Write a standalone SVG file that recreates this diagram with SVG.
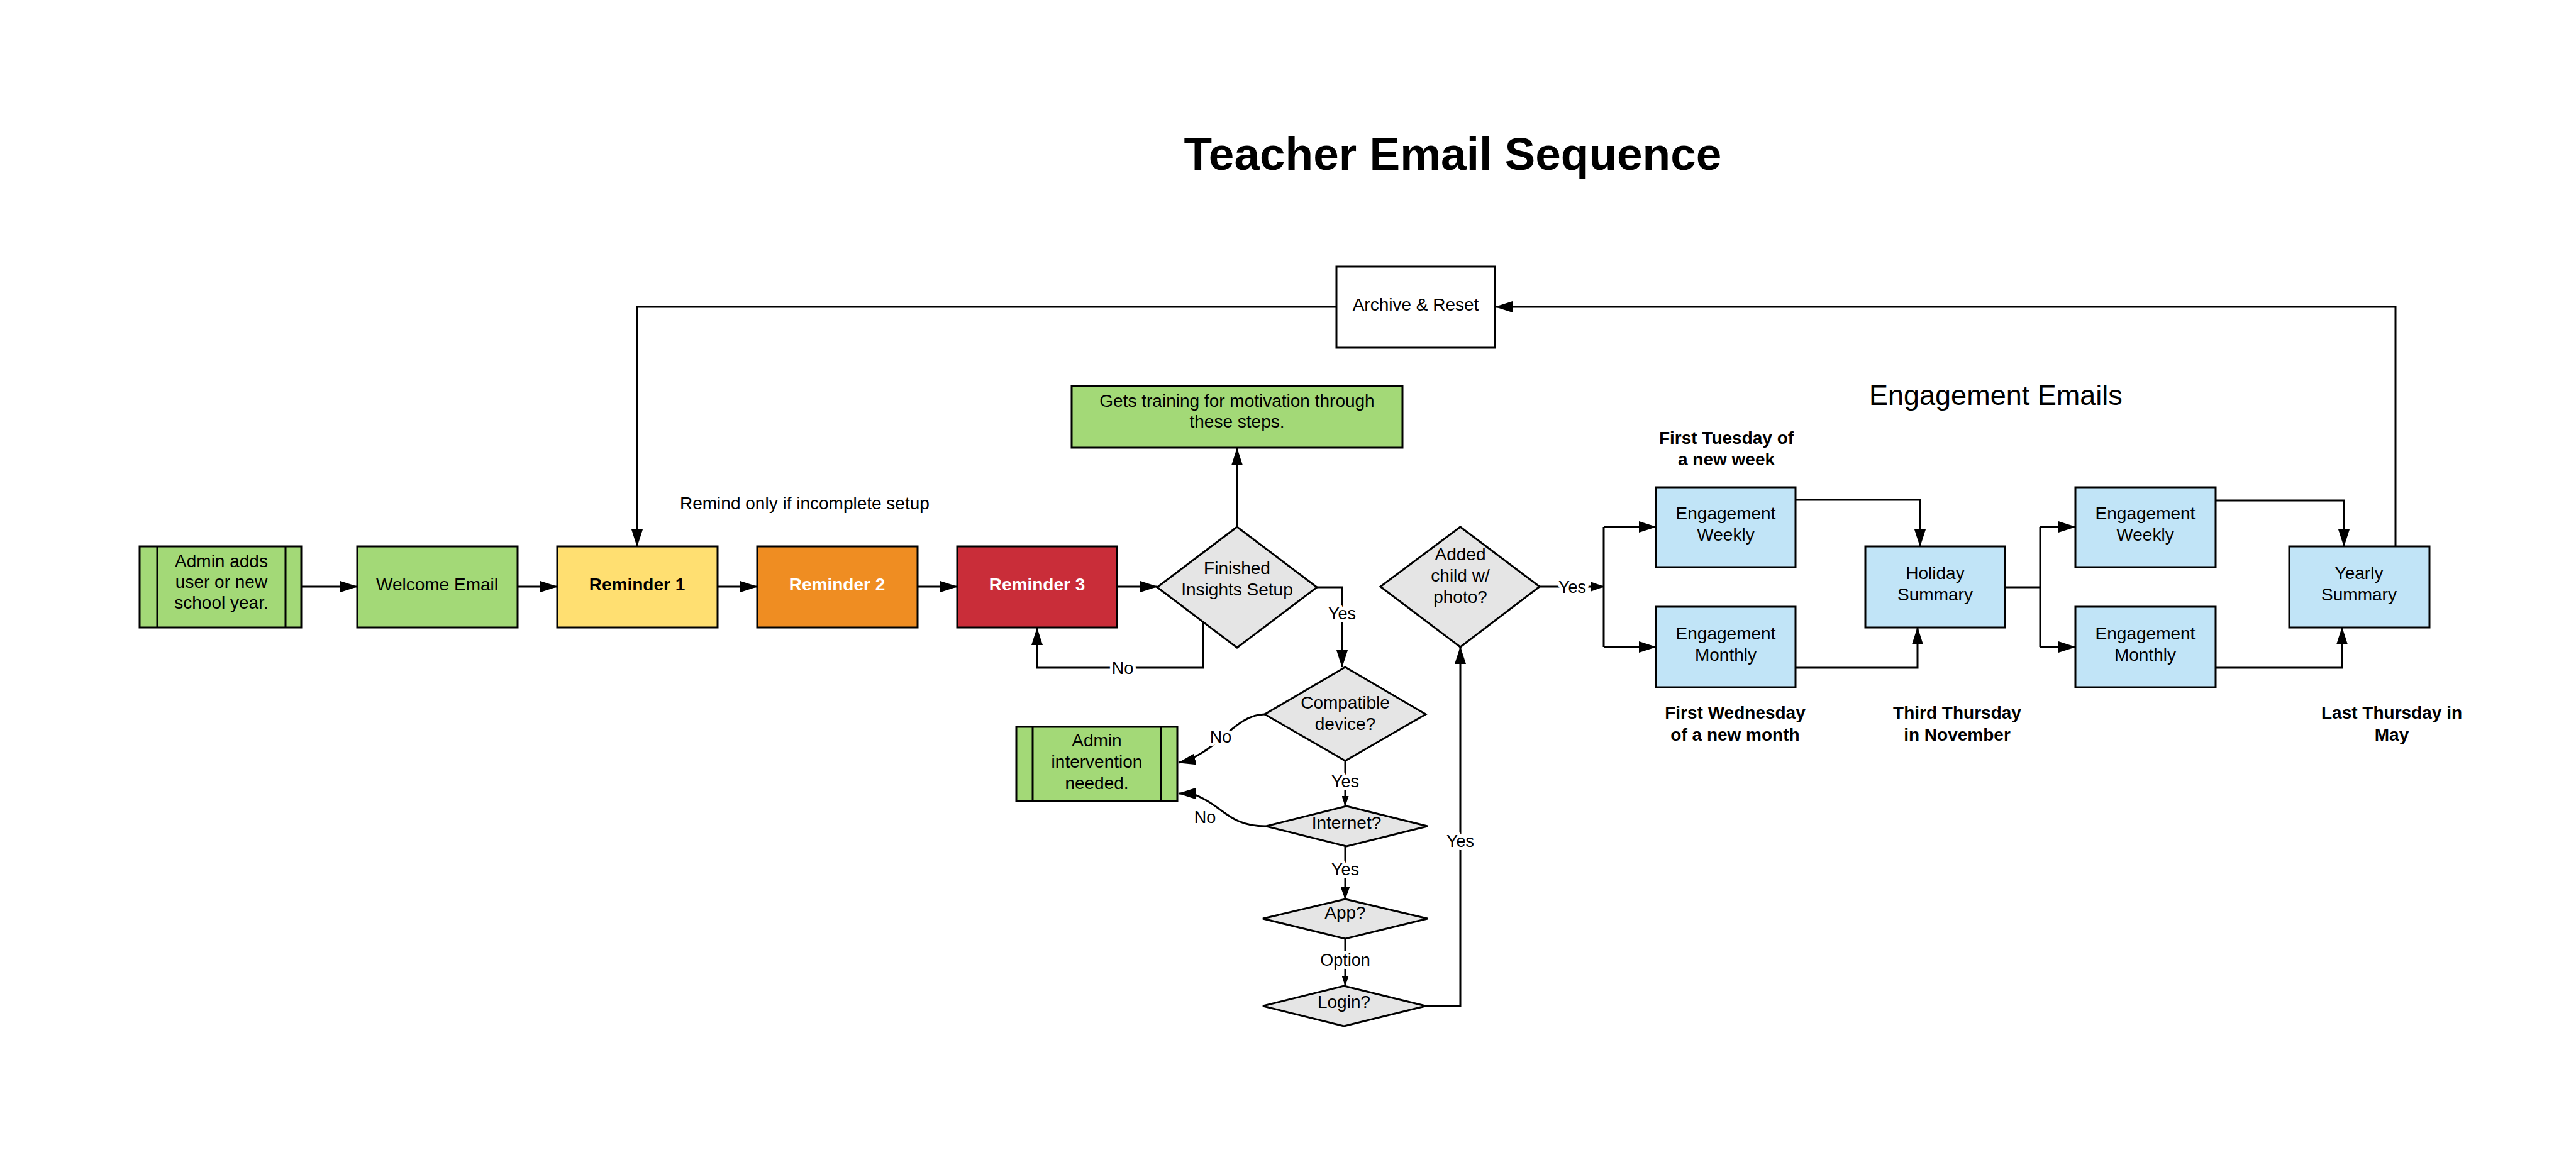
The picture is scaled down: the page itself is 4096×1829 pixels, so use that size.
<svg xmlns="http://www.w3.org/2000/svg" width="4096" height="1829" viewBox="0 0 4096 1829">
<style>
.t{font-family:"Liberation Sans",Arial,sans-serif;font-size:28px;fill:#000;text-anchor:middle}
.b{font-weight:bold}
.w{fill:#fff}
.box{stroke:#000;stroke-width:3}
.g{fill:#A3D977}.y{fill:#FFDF71}.o{fill:#EF8D22}.r{fill:#C92D39}.bl{fill:#C1E4F7}.gr{fill:#E5E5E5}.wh{fill:#fff}
.c{fill:none;stroke:#000;stroke-width:3}
.lbl{font-family:"Liberation Sans",Arial,sans-serif;font-size:27px;fill:#000;text-anchor:middle;stroke:#fff;stroke-width:10px;paint-order:stroke;stroke-linejoin:round}
</style>
<defs>
<marker id="aL" markerUnits="userSpaceOnUse" markerWidth="28" markerHeight="18" refX="27" refY="9" orient="auto"><path d="M0,0 L28,9 L0,18 Z" fill="#000"/></marker>
<marker id="aM" markerUnits="userSpaceOnUse" markerWidth="21" markerHeight="15" refX="20" refY="7.5" orient="auto"><path d="M0,0 L21,7.5 L0,15 Z" fill="#000"/></marker>
<marker id="aS" markerUnits="userSpaceOnUse" markerWidth="17" markerHeight="11" refX="16" refY="5.5" orient="auto"><path d="M0,0 L17,5.5 L0,11 Z" fill="#000"/></marker>
</defs>
<rect width="4096" height="1829" fill="#fff"/>
<text class="t b" x="2310" y="270" style="font-size:73px">Teacher Email Sequence</text>
<text class="t" x="2972" y="644" style="font-size:45px;text-anchor:start">Engagement Emails</text>
<text class="t" x="1081" y="810" style="text-anchor:start">Remind only if incomplete setup</text>
<g id="labels-dates">
<text class="t b" x="2745" y="706">First Tuesday of</text>
<text class="t b" x="2745" y="740">a new week</text>
<text class="t b" x="2759" y="1143">First Wednesday</text>
<text class="t b" x="2759" y="1178">of a new month</text>
<text class="t b" x="3112" y="1143">Third Thursday</text>
<text class="t b" x="3112" y="1178">in November</text>
<text class="t b" x="3803" y="1143">Last Thursday in</text>
<text class="t b" x="3803" y="1178">May</text>
</g>
<g id="connectors">
<path class="c" d="M479,933 H568" marker-end="url(#aL)"/>
<path class="c" d="M823,933 H886" marker-end="url(#aL)"/>
<path class="c" d="M1141,933 H1204" marker-end="url(#aL)"/>
<path class="c" d="M1459,933 H1522" marker-end="url(#aL)"/>
<path class="c" d="M1776,933 H1840" marker-end="url(#aL)"/>
<path class="c" d="M1967,838 V713" marker-end="url(#aL)"/>
<path class="c" d="M1913,989 V1062 H1649 V999" marker-end="url(#aL)"/>
<path class="c" d="M2094,934 H2134 V1061" marker-end="url(#aL)"/>
<path class="c" d="M2011,1136 C1962,1136 1935,1200 1874,1213" marker-end="url(#aL)"/>
<path class="c" d="M2139,1210 V1282" marker-end="url(#aS)"/>
<path class="c" d="M2013,1314 C1962,1314 1948,1290 1920,1274 S1890,1262 1874,1262" marker-end="url(#aL)"/>
<path class="c" d="M2139,1346 V1430" marker-end="url(#aM)"/>
<path class="c" d="M2139,1493 V1568" marker-end="url(#aS)"/>
<path class="c" d="M2267,1600 H2322 V1029" marker-end="url(#aL)"/>
<path class="c" d="M2448,933 H2550" marker-end="url(#aM)"/>
<path class="c" d="M2550,838 V1029"/>
<path class="c" d="M2550,838 H2633" marker-end="url(#aL)"/>
<path class="c" d="M2550,1029 H2633" marker-end="url(#aL)"/>
<path class="c" d="M2855,795 H3053 V869" marker-end="url(#aL)"/>
<path class="c" d="M2855,1062 H3049 V998" marker-end="url(#aL)"/>
<path class="c" d="M3188,934 H3244"/>
<path class="c" d="M3244,838 V1029"/>
<path class="c" d="M3244,838 H3300" marker-end="url(#aL)"/>
<path class="c" d="M3244,1029 H3300" marker-end="url(#aL)"/>
<path class="c" d="M3523,796 H3727 V869" marker-end="url(#aL)"/>
<path class="c" d="M3523,1062 H3724 V998" marker-end="url(#aL)"/>
<path class="c" d="M3809,869 V488 H2378" marker-end="url(#aL)"/>
<path class="c" d="M2125,488 H1013 V869" marker-end="url(#aL)"/>
<text class="lbl" x="1785" y="1072">No</text>
<text class="lbl" x="2134" y="985">Yes</text>
<text class="lbl" x="1941" y="1181">No</text>
<text class="lbl" x="2139" y="1252">Yes</text>
<text class="lbl" x="1916" y="1309">No</text>
<text class="lbl" x="2139" y="1392">Yes</text>
<text class="lbl" x="2139" y="1536">Option</text>
<text class="lbl" x="2322" y="1347">Yes</text>
<text class="lbl" x="2500" y="943">Yes</text>
</g>
<g id="admin-adds">
<rect class="box g" x="222" y="869" width="257" height="129"/>
<path class="c" d="M250,869 V998 M454,869 V998"/>
<text class="t" x="352" y="902">Admin adds</text>
<text class="t" x="352" y="935">user or new</text>
<text class="t" x="352" y="968">school year.</text>
</g>
<g id="welcome-email">
<rect class="box g" x="568" y="869" width="255" height="129"/>
<text class="t" x="695" y="939">Welcome Email</text>
</g>
<g id="reminder-1">
<rect class="box y" x="886" y="869" width="255" height="129"/>
<text class="t b" x="1013" y="939">Reminder 1</text>
</g>
<g id="reminder-2">
<rect class="box o" x="1204" y="869" width="255" height="129"/>
<text class="t b w" x="1331" y="939">Reminder 2</text>
</g>
<g id="reminder-3">
<rect class="box r" x="1522" y="869" width="254" height="129"/>
<text class="t b w" x="1649" y="939">Reminder 3</text>
</g>
<g id="finished-setup">
<polygon class="box gr" points="1967,838 2094,934 1967,1030 1840,934"/>
<text class="t" x="1967" y="913">Finished</text>
<text class="t" x="1967" y="947">Insights Setup</text>
</g>
<g id="gets-training">
<rect class="box g" x="1704" y="614" width="526" height="98"/>
<text class="t" x="1967" y="647">Gets training for motivation through</text>
<text class="t" x="1967" y="680">these steps.</text>
</g>
<g id="archive-reset">
<rect class="box wh" x="2125" y="424" width="252" height="129"/>
<text class="t" x="2251" y="494">Archive &amp; Reset</text>
</g>
<g id="compatible-device">
<polygon class="box gr" points="2139,1061 2267,1136 2139,1210 2011,1136"/>
<text class="t" x="2139" y="1127">Compatible</text>
<text class="t" x="2139" y="1161">device?</text>
</g>
<g id="admin-intervention">
<rect class="box g" x="1616" y="1156" width="256" height="118"/>
<path class="c" d="M1642,1156 V1274 M1846,1156 V1274"/>
<text class="t" x="1744" y="1187">Admin</text>
<text class="t" x="1744" y="1221">intervention</text>
<text class="t" x="1744" y="1255">needed.</text>
</g>
<g id="internet">
<polygon class="box gr" points="2141,1282 2270,1314 2141,1346 2013,1314"/>
<text class="t" x="2141" y="1318">Internet?</text>
</g>
<g id="app">
<polygon class="box gr" points="2139,1430 2270,1461 2139,1493 2008,1461"/>
<text class="t" x="2139" y="1461">App?</text>
</g>
<g id="login">
<polygon class="box gr" points="2137,1568 2267,1600 2137,1632 2008,1600"/>
<text class="t" x="2137" y="1603">Login?</text>
</g>
<g id="added-child">
<polygon class="box gr" points="2322,838 2448,933 2322,1029 2195,933"/>
<text class="t" x="2322" y="891">Added</text>
<text class="t" x="2322" y="925">child w/</text>
<text class="t" x="2322" y="959">photo?</text>
</g>
<g id="engagement-weekly-1">
<rect class="box bl" x="2633" y="775" width="222" height="127"/>
<text class="t" x="2744" y="826">Engagement</text>
<text class="t" x="2744" y="860">Weekly</text>
</g>
<g id="engagement-monthly-1">
<rect class="box bl" x="2633" y="965" width="222" height="128"/>
<text class="t" x="2744" y="1017">Engagement</text>
<text class="t" x="2744" y="1051">Monthly</text>
</g>
<g id="holiday-summary">
<rect class="box bl" x="2966" y="869" width="222" height="129"/>
<text class="t" x="3077" y="921">Holiday</text>
<text class="t" x="3077" y="955">Summary</text>
</g>
<g id="engagement-weekly-2">
<rect class="box bl" x="3300" y="775" width="223" height="127"/>
<text class="t" x="3411" y="826">Engagement</text>
<text class="t" x="3411" y="860">Weekly</text>
</g>
<g id="engagement-monthly-2">
<rect class="box bl" x="3300" y="965" width="223" height="128"/>
<text class="t" x="3411" y="1017">Engagement</text>
<text class="t" x="3411" y="1051">Monthly</text>
</g>
<g id="yearly-summary">
<rect class="box bl" x="3640" y="869" width="223" height="129"/>
<text class="t" x="3751" y="921">Yearly</text>
<text class="t" x="3751" y="955">Summary</text>
</g>
</svg>
